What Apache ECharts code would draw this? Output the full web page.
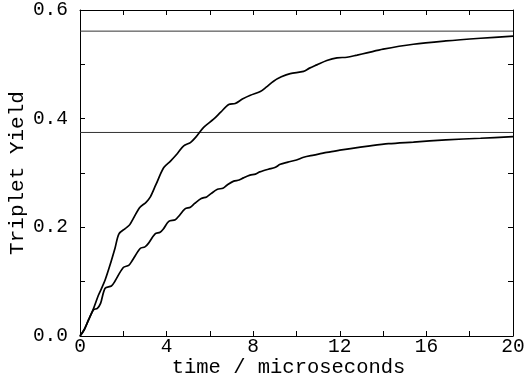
<!DOCTYPE html>
<html>
<head>
<meta charset="utf-8">
<script src="https://cdn.jsdelivr.net/npm/echarts@6/dist/echarts.min.js"></script>
<style>
  html, body { margin: 0; padding: 0; background: #fff; }
  #chart { width: 524px; height: 384px; }
</style>
</head>
<body>
<div id="chart"></div>
<script>
// time (microseconds) and triplet yield
const upperTime = [0, 0.2, 0.4, 0.62, 0.85, 1.0, 1.16, 1.39, 1.62, 1.8, 2.1, 2.3, 2.75, 3.05, 3.25, 3.5, 3.87,
  4.18, 4.5, 4.79, 5.1, 5.35, 5.71, 6.17, 6.5, 6.87, 7.17, 7.5, 7.87, 8.33, 8.6, 8.94, 9.3, 9.71,
  10.33, 10.6, 10.94, 11.4, 11.87, 12.33, 12.8, 13.25, 14.0, 15.4, 16.9, 18.5, 20];
const upperYield = [0, 0.012, 0.03, 0.05, 0.075, 0.088, 0.103, 0.131, 0.162, 0.188, 0.198, 0.205, 0.236, 0.246, 0.256, 0.278, 0.31,
  0.322, 0.336, 0.35, 0.356, 0.366, 0.384, 0.399, 0.412, 0.426, 0.428, 0.436, 0.443, 0.45, 0.458, 0.469, 0.477, 0.483,
  0.487, 0.493, 0.499, 0.507, 0.512, 0.513, 0.517, 0.521, 0.528, 0.537, 0.543, 0.548, 0.552];

const lowerTime = [0, 0.2, 0.4, 0.62, 0.8, 0.95, 1.16, 1.45, 1.6, 2.0, 2.25, 2.4, 2.78, 3.0, 3.15, 3.47, 3.7, 3.85,
  4.1, 4.4, 4.55, 4.85, 5.1, 5.3, 5.6, 5.85, 6.05, 6.35, 6.6, 6.8, 7.1, 7.35, 7.55, 7.85, 8.1, 8.3, 8.7,
  9.0, 9.25, 9.6, 10.0, 10.33, 10.8, 11.4, 12.0, 12.5, 13.4, 14.25, 15.4, 16.9, 18.5, 20];
const lowerYield = [0, 0.012, 0.03, 0.048, 0.051, 0.06, 0.088, 0.092, 0.1, 0.126, 0.13, 0.138, 0.161, 0.164, 0.17, 0.188, 0.191, 0.197,
  0.211, 0.214, 0.22, 0.234, 0.237, 0.244, 0.253, 0.256, 0.262, 0.27, 0.272, 0.278, 0.285, 0.287, 0.291, 0.296, 0.298, 0.302, 0.307,
  0.31, 0.316, 0.32, 0.324, 0.329, 0.333, 0.338, 0.342, 0.345, 0.35, 0.354, 0.357, 0.361, 0.364, 0.367];

// asymptotic limits drawn as horizontal lines
const limits = [0.5611, 0.3746];

const xTicks = [0, 4, 8, 12, 16, 20];
const yTicks = [0.0, 0.2, 0.4, 0.6];

const font = "'Liberation Mono', 'DejaVu Sans Mono', monospace";
const zip = (xs, ys) => xs.map((x, i) => [x, ys[i]]);

const chart = echarts.init(document.getElementById('chart'));

const tickStyle = { inside: true, length: 5, lineStyle: { color: '#000', width: 1 } };
const lineStyle = { lineStyle: { color: '#000', width: 1 } };

const baseX = {
  type: 'value',
  min: xTicks[0],
  max: xTicks[xTicks.length - 1],
  interval: 4,
  axisLine: { show: true, onZero: false, ...lineStyle },
  axisTick: tickStyle,
  minorTick: { show: true, splitNumber: 2, length: 5, lineStyle: { color: '#000', width: 1 } },
  splitLine: { show: false },
};
const baseY = {
  type: 'value',
  min: yTicks[0],
  max: yTicks[yTicks.length - 1],
  interval: 0.2,
  axisLine: { show: true, onZero: false, ...lineStyle },
  axisTick: tickStyle,
  minorTick: { show: true, splitNumber: 2, length: 5, lineStyle: { color: '#000', width: 1 } },
  splitLine: { show: false },
};

const option = {
  animation: false,
  backgroundColor: '#fff',
  grid: { left: 80, right: 11, top: 10, bottom: 48, outerBoundsMode: 'none', containLabel: false },
  xAxis: [
    {
      ...baseX,
      position: 'bottom',
      name: 'time / microseconds',
      nameLocation: 'middle',
      nameGap: 21,
      nameMoveOverlap: false,
      nameTextStyle: { fontFamily: font, fontSize: 20.5, color: '#000', padding: [0, 16, 0, 0] },
      axisLabel: {
        show: true, margin: 1, fontFamily: font, fontSize: 19.5, color: '#000',
        formatter: v => (xTicks.includes(v) ? String(v) : ''),
      },
    },
    { ...baseX, position: 'top', axisLabel: { show: false } },
  ],
  yAxis: [
    {
      ...baseY,
      position: 'left',
      name: 'Triplet Yield',
      nameLocation: 'middle',
      nameGap: 52,
      nameMoveOverlap: false,
      nameTextStyle: { fontFamily: font, fontSize: 21, color: '#000' },
      axisLabel: {
        show: true, margin: 12, fontFamily: font, fontSize: 19.5, color: '#000',
        formatter: v => v.toFixed(1),
      },
    },
    { ...baseY, position: 'right', axisLabel: { show: false } },
  ],
  series: [
    ...limits.map(v => ({
      type: 'line',
      data: [[xTicks[0], v], [xTicks[xTicks.length - 1], v]],
      showSymbol: false,
      silent: true,
      lineStyle: { color: '#333', width: 1 },
    })),
    {
      type: 'line',
      data: zip(upperTime, upperYield),
      showSymbol: false,
      smooth: 0.3,
      lineStyle: { color: '#000', width: 1.7 },
    },
    {
      type: 'line',
      data: zip(lowerTime, lowerYield),
      showSymbol: false,
      smooth: 0.3,
      lineStyle: { color: '#000', width: 1.7 },
    },
  ],
};

chart.setOption(option);
</script>
</body>
</html>
